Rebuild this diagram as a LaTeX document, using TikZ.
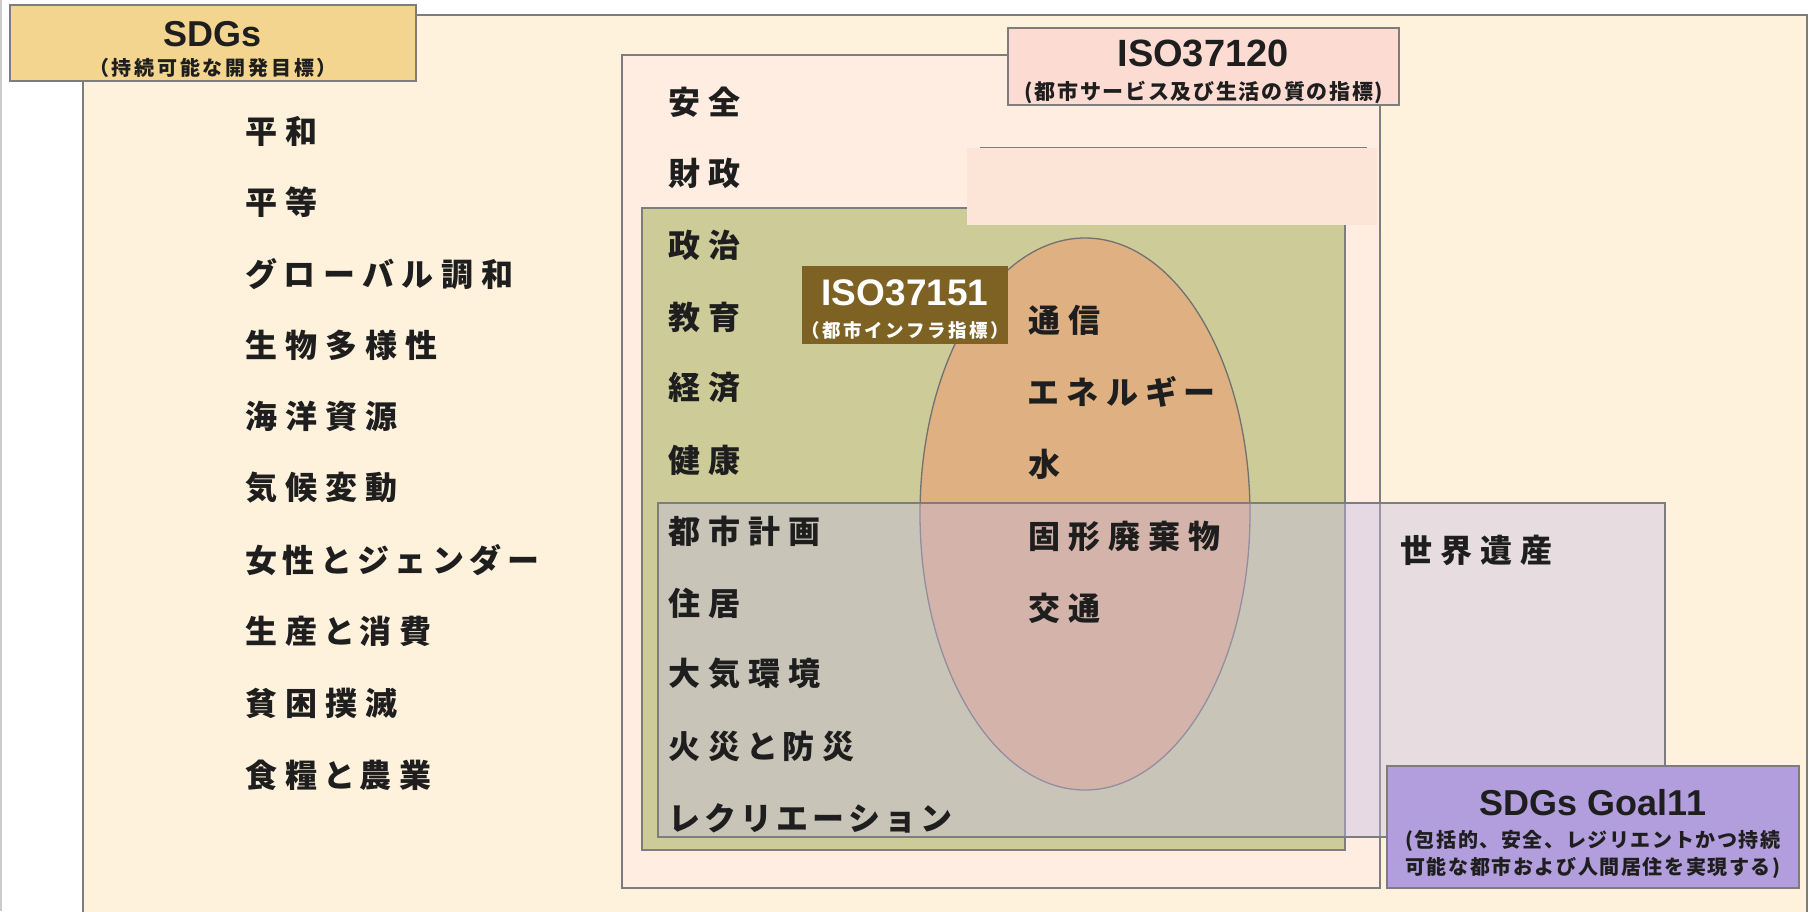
\documentclass[tikz,border=0pt]{standalone}
\usepackage{fontspec}
\setmainfont{Liberation Sans}
\newfontfamily\jpA{Noto Sans CJK JP}[LetterSpace=25, RawFeature=+palt]
\newfontfamily\jpK{Noto Sans CJK JP}[LetterSpace=13]
\newfontfamily\jpG{Noto Sans CJK JP}[LetterSpace=17]
\newfontfamily\jpB{Noto Sans CJK JP}[LetterSpace=14]
\newfontfamily\jpC{Noto Sans CJK JP}[LetterSpace=8]
\newfontfamily\lat{Liberation Sans}
\definecolor{cream}{RGB}{255,242,220}
\definecolor{isofill}{RGB}{254,237,224}
\definecolor{bordergray}{RGB}{125,125,125}
\definecolor{sdgfill}{RGB}{243,213,143}
\definecolor{isolabel}{RGB}{252,220,210}
\definecolor{patchfill}{RGB}{252,228,214}
\definecolor{greenfill}{RGB}{205,203,152}
\definecolor{ellfill}{RGB}{222,176,130}
\definecolor{infralabel}{RGB}{125,98,35}
\definecolor{lavender}{RGB}{197,187,232}
\definecolor{goalfill}{RGB}{178,158,220}
\definecolor{ink}{RGB}{30,30,30}
\begin{document}
\begin{tikzpicture}[x=1pt,y=-1pt,
  frame/.style={draw=bordergray, line width=2pt},
  item/.style={anchor=west, inner sep=0pt, text=ink, font=\jpA\bfseries\fontsize{32}{36}\selectfont},
  itemK/.style={item, font=\jpK\bfseries\fontsize{32}{36}\selectfont},
  itemG/.style={item, font=\jpG\bfseries\fontsize{32}{36}\selectfont},
  ttl/.style={inner sep=0pt, text=ink, font=\lat\bfseries\fontsize{37}{40}\selectfont},
  subA/.style={inner sep=0pt, text=ink, font=\jpB\bfseries\fontsize{20}{24}\selectfont},
  subC/.style={inner sep=0pt, text=ink, align=center, font=\jpC\bfseries\fontsize{20}{27}\selectfont}
]
\useasboundingbox (0,0) rectangle (1812,911);
\clip (0,0) rectangle (1812,911);
\fill[white] (0,0) rectangle (1812,911);
\draw[gray!40, line width=1.5pt] (1,0) -- (1,911);

% outer SDGs region
\path[frame, fill=cream] (83,15) rectangle (1807,940);
\node[frame, fill=sdgfill, minimum width=406, minimum height=76, inner sep=0pt] (sdglabel) at (213,43) {};
\node[ttl, font=\lat\bfseries\fontsize{36}{40}\selectfont] (sdgtitle) at (213,34) {SDGs};
\node[subA] (sdgsub) at (213,68) {（持続可能な開発目標）};

% ISO37120 region
\path[frame, fill=isofill] (622,55) rectangle (1380,888);
\node[frame, fill=isolabel, minimum width=391, minimum height=77, inner sep=0pt] (isolab) at (1203.5,66.5) {};
\node[ttl, font=\lat\bfseries\fontsize{38}{40}\selectfont] (isotitle) at (1203,53) {ISO37120};
\node[subA, font=\jpC\bfseries\fontsize{21}{24}\selectfont] (isosub) at (1204,92) {(都市サービス及び生活の質の指標)};

% ISO37151 region
\path[frame, fill=greenfill] (642,208) rectangle (1345,850);
\fill[patchfill] (967,148) rectangle (1377,225);
\draw[bordergray, line width=1pt] (980,147) -- (1367,147);
\path[draw=bordergray!90!black, line width=1.3pt, fill=ellfill] (1085,514) ellipse [x radius=165, y radius=276];
\node[fill=infralabel, minimum width=206, minimum height=78, inner sep=0pt] (infralab) at (905,305) {};
\node[ttl, text=white, font=\lat\bfseries\fontsize{37}{40}\selectfont] (infratitle) at (905,293) {ISO37151};
\node[subA, text=white, font=\jpB\bfseries\fontsize{18.5}{20}\selectfont] (infrasub) at (905,330) {（都市インフラ指標）};

% SDGs Goal11 region
\path[draw=bordergray, line width=1.5pt, fill=lavender, fill opacity=0.4] (658,503) rectangle (1665,837);
\node[frame, fill=goalfill, minimum width=412, minimum height=122, inner sep=0pt] (goallab) at (1593,827) {};
\node[ttl, font=\lat\bfseries\fontsize{36}{40}\selectfont] (goaltitle) at (1593,803) {SDGs Goal11};
\node[subC] (goalsub) at (1593,854) {(包括的、安全、レジリエントかつ持続\\可能な都市および人間居住を実現する)};

% SDGs list
\node[item] (s1) at (245,131) {平和};
\node[item] (s2) at (245,202) {平等};
\node[item] (s3) at (245,274) {グローバル調和};
\node[item] (s4) at (245,345) {生物多様性};
\node[item] (s5) at (245,416) {海洋資源};
\node[item] (s6) at (245,488) {気候変動};
\node[itemG] (s7) at (245,560) {女性とジェンダー};
\node[item] (s8) at (245,631) {生産と消費};
\node[item] (s9) at (245,703) {貧困撲滅};
\node[item] (s10) at (245,775) {食糧と農業};

% ISO37120 list
\node[item] (i1) at (668,102) {安全};
\node[item] (i2) at (668,173) {財政};
\node[item] (i3) at (668,245) {政治};
\node[item] (i4) at (668,317) {教育};
\node[item] (i5) at (668,388) {経済};
\node[item] (i6) at (668,460) {健康};
\node[item] (i7) at (668,531) {都市計画};
\node[item] (i8) at (668,603) {住居};
\node[item] (i9) at (668,674) {大気環境};
\node[item] (i10) at (668,746) {火災と防災};
\node[itemK] (i11) at (668,818) {レクリエーション};

% infrastructure list
\node[item] (m1) at (1028,320) {通信};
\node[item] (m2) at (1028,392) {エネルギー};
\node[item] (m3) at (1028,464) {水};
\node[item] (m4) at (1028,536) {固形廃棄物};
\node[item] (m5) at (1028,608) {交通};

\node[item] (w1) at (1400,550) {世界遺産};
\end{tikzpicture}
\end{document}
